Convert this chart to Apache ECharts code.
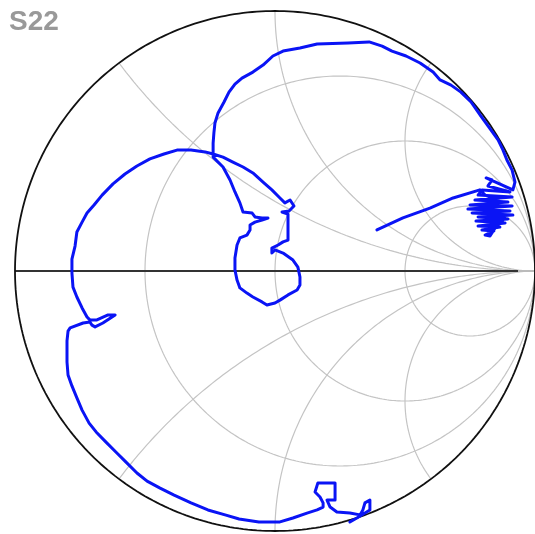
<!DOCTYPE html>
<html>
<head>
<meta charset="utf-8">
<script src="https://cdn.jsdelivr.net/npm/echarts/dist/echarts.min.js"></script>
<style>
html, body { margin: 0; padding: 0; background: #fff; }
#smith { width: 535px; height: 534px; }
</style>
</head>
<body>
<div id="smith"></div>
<script>
var gammaRe = [0.288, 0.315, 0.346, 0.365, 0.365, 0.346, 0.338, 0.327, 0.288, 0.238, 0.212, 0.200, 0.231, 0.231, 0.165, 0.154, 0.173, 0.185, 0.185, 0.162,
    0.123, 0.069, 0.019, -0.062, -0.138, -0.192, -0.258, -0.323, -0.388, -0.442, -0.492, -0.531, -0.573, -0.612, -0.650, -0.688, -0.715, -0.742, -0.762, -0.781,
    -0.796, -0.800, -0.800, -0.796, -0.788, -0.738, -0.712, -0.704, -0.692, -0.662, -0.615, -0.642, -0.685, -0.712, -0.723, -0.742, -0.762, -0.777, -0.781, -0.781,
    -0.769, -0.762, -0.742, -0.723, -0.696, -0.665, -0.623, -0.577, -0.531, -0.481, -0.427, -0.377, -0.323, -0.269, -0.238, -0.200, -0.162, -0.123, -0.085, -0.046,
    -0.012, 0.019, 0.038, 0.058, 0.073, 0.054, 0.027, 0.050, 0.050, 0.050, 0.031, 0.012, -0.012, -0.012, 0.000, 0.031, 0.069, 0.088, 0.096, 0.096,
    0.085, 0.050, 0.019, 0.000, -0.031, -0.050, -0.085, -0.108, -0.135, -0.146, -0.154, -0.154, -0.146, -0.135, -0.108, -0.096, -0.096, -0.077, -0.050, -0.027,
    -0.050, -0.077, -0.088, -0.123, -0.135, -0.154, -0.173, -0.200, -0.238, -0.238, -0.235, -0.231, -0.219, -0.196, -0.177, -0.154, -0.127, -0.085, -0.046, -0.008,
    0.031, 0.096, 0.162, 0.281, 0.362, 0.412, 0.450, 0.504, 0.558, 0.608, 0.635, 0.677, 0.715, 0.754, 0.792, 0.831, 0.858, 0.877, 0.892, 0.912,
    0.923, 0.915,
    0.812, 0.835, 0.819, 0.904, 0.796, 0.781, 0.912, 0.769, 0.896, 0.750, 0.912, 0.742, 0.904, 0.758, 0.915, 0.781, 0.896, 0.773, 0.885, 0.781,
    0.865, 0.796, 0.842, 0.808, 0.827, 0.846, 0.885, 0.827, 0.858, 0.808, 0.788,
    0.685, 0.596, 0.492, 0.392];
var gammaIm = [-0.965, -0.950, -0.931, -0.919, -0.881, -0.892, -0.919, -0.938, -0.931, -0.927, -0.908, -0.881, -0.881, -0.815, -0.815, -0.850, -0.869, -0.892, -0.908, -0.919,
    -0.931, -0.950, -0.965, -0.965, -0.954, -0.938, -0.919, -0.892, -0.862, -0.835, -0.808, -0.777, -0.735, -0.696, -0.658, -0.619, -0.585, -0.535, -0.488, -0.442,
    -0.400, -0.350, -0.269, -0.231, -0.219, -0.200, -0.196, -0.208, -0.215, -0.200, -0.169, -0.169, -0.188, -0.188, -0.177, -0.142, -0.100, -0.062, -0.008, 0.046,
    0.096, 0.150, 0.188, 0.223, 0.254, 0.292, 0.335, 0.373, 0.404, 0.431, 0.450, 0.465, 0.465, 0.458, 0.450, 0.438, 0.419, 0.400, 0.377, 0.342,
    0.312, 0.281, 0.262, 0.273, 0.250, 0.231, 0.227, 0.219, 0.169, 0.119, 0.112, 0.100, 0.088, 0.069, 0.081, 0.069, 0.042, 0.015, -0.023, -0.054,
    -0.073, -0.092, -0.112, -0.123, -0.131, -0.119, -0.100, -0.085, -0.065, -0.035, 0.004, 0.050, 0.100, 0.127, 0.138, 0.158, 0.177, 0.188, 0.196, 0.204,
    0.204, 0.208, 0.223, 0.227, 0.262, 0.304, 0.350, 0.400, 0.438, 0.492, 0.531, 0.569, 0.608, 0.650, 0.688, 0.719, 0.742, 0.765, 0.792, 0.827,
    0.846, 0.858, 0.873, 0.877, 0.881, 0.865, 0.846, 0.827, 0.800, 0.765, 0.735, 0.715, 0.688, 0.650, 0.596, 0.542, 0.504, 0.465, 0.427, 0.388,
    0.342, 0.312,
    0.358, 0.350, 0.327, 0.304, 0.312, 0.292, 0.285, 0.273, 0.265, 0.254, 0.250, 0.238, 0.231, 0.223, 0.215, 0.208, 0.200, 0.192, 0.185, 0.173,
    0.169, 0.158, 0.154, 0.138, 0.135, 0.165, 0.204, 0.235, 0.273, 0.292, 0.312,
    0.281, 0.242, 0.204, 0.158];

// Smith chart grid values
var resistanceGrid = [1 / 3, 1, 3];
var reactanceGrid = [0.5, 1, 2, -0.5, -1, -2];

function circlePoints(cx, cy, rad) {
    var pts = [];
    for (var a = 0; a <= 360; a += 1) {
        var t = a * Math.PI / 180;
        pts.push([cx + rad * Math.cos(t), cy + rad * Math.sin(t)]);
    }
    return pts;
}

function reactancePoints(x) {
    var pts = [];
    var rs = [0];
    for (var k = -3; k <= 4; k += 0.02) rs.push(Math.pow(10, k));
    for (var i = 0; i < rs.length; i++) {
        var r = rs[i];
        var d = (r + 1) * (r + 1) + x * x;
        pts.push([(r * r - 1 + x * x) / d, 2 * x / d]);
    }
    return pts;
}

var gridColor = '#c4c4c4';
var series = [];

for (var i = 0; i < resistanceGrid.length; i++) {
    var r = resistanceGrid[i];
    series.push({
        type: 'line', showSymbol: false, silent: true, z: 1,
        lineStyle: { color: gridColor, width: 1.2 },
        data: circlePoints(r / (1 + r), 0, 1 / (1 + r))
    });
}
for (var j = 0; j < reactanceGrid.length; j++) {
    series.push({
        type: 'line', showSymbol: false, silent: true, z: 1,
        lineStyle: { color: gridColor, width: 1.2 },
        data: reactancePoints(reactanceGrid[j])
    });
}

// real axis
series.push({
    type: 'line', showSymbol: false, silent: true, z: 2,
    lineStyle: { color: '#333', width: 2 },
    data: [[-1, 0], [0.935, 0]]
});
series.push({
    type: 'line', showSymbol: false, silent: true, z: 2,
    lineStyle: { color: '#bbb', width: 2 },
    data: [[0.935, 0], [1, 0]]
});

// outer circle
series.push({
    type: 'line', showSymbol: false, silent: true, z: 3,
    lineStyle: { color: '#111', width: 1.8 },
    data: circlePoints(0, 0, 1)
});

var trace = [];
for (var n = 0; n < gammaRe.length; n++) trace.push([gammaRe[n], gammaIm[n]]);
series.push({
    name: 'S22',
    type: 'line', showSymbol: false, z: 5,
    lineStyle: { color: '#0a14f5', width: 3, join: 'round', cap: 'round' },
    data: trace
});

var myChart = echarts.init(document.getElementById('smith'));
myChart.setOption({
    animation: false,
    title: {
        text: 'S22',
        left: 9,
        top: 8,
        padding: 0,
        textStyle: {
            fontFamily: 'Liberation Sans',
            fontSize: 28,
            fontWeight: 'bold',
            color: '#999'
        }
    },
    grid: { left: 15, top: 11, width: 520, height: 520 },
    xAxis: { type: 'value', min: -1, max: 1, show: false },
    yAxis: { type: 'value', min: -1, max: 1, show: false },
    series: series
});
</script>
</body>
</html>
